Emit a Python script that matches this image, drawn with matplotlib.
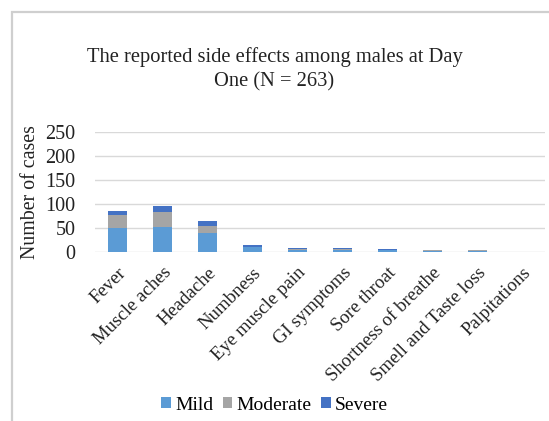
import numpy as np
import matplotlib
matplotlib.use("Agg")
import matplotlib.pyplot as plt
from matplotlib.patches import Rectangle

plt.rcParams['font.family'] = ['Liberation Serif', 'DejaVu Serif']

# Side effects reported on day one, males (N = 263)
symptoms = ["Fever", "Muscle aches", "Headache", "Numbness", "Eye muscle pain",
            "GI symptoms", "Sore throat", "Shortness of breathe",
            "Smell and Taste loss", "Palpitations"]
mild = [50, 52, 40, 9, 4, 4, 3, 2, 2, 0]
moderate = [26, 30, 14, 1, 2, 2, 1, 1, 1, 0]
severe = [9, 13, 10, 4, 1, 1, 1, 0, 0, 0]
y_ticks = [0, 50, 100, 150, 200, 250]

fig = plt.figure(figsize=(5.49, 4.21), dpi=100)
ax = fig.add_axes([95 / 549, 1 - 251.7 / 421, 450 / 549, 120 / 421])

# light frame around the chart
fig.patches.append(Rectangle((12 / 549, -0.1), 1.2, 1 - 12 / 421 + 0.1,
                             transform=fig.transFigure, fill=False,
                             edgecolor="#cfcfcf", linewidth=1.6))

x = np.arange(len(symptoms))
w = 0.42
mild_a = np.array(mild)
mod_a = np.array(moderate)
sev_a = np.array(severe)
ax.bar(x, mild_a, w, color="#5B9BD5", label="Mild", zorder=3)
ax.bar(x, mod_a, w, bottom=mild_a, color="#A5A5A5", label="Moderate", zorder=3)
ax.bar(x, sev_a, w, bottom=mild_a + mod_a, color="#4472C4", label="Severe", zorder=3)

ax.set_xlim(-0.5, len(symptoms) - 0.5)
ax.set_ylim(0, 250)
ax.set_yticks(y_ticks)
ax.yaxis.grid(True, color="#d9d9d9", linewidth=1.0)
ax.set_axisbelow(True)
for s in ax.spines.values():
    s.set_visible(False)
ax.tick_params(axis="both", length=0, colors="#222222")
ax.tick_params(axis="y", pad=14, labelsize=14.5)
ax.tick_params(axis="x", pad=9)
ax.set_xticks(x)
ax.set_xticklabels(symptoms, rotation=45, ha="right", rotation_mode="anchor",
                   fontsize=13.5)
ax.set_ylabel("Number of cases", fontsize=14.3, color="#222222", labelpad=4)

fig.text(0.5, 1 - 57 / 421, "The reported side effects among males at Day",
         ha="center", va="center", fontsize=14.8, color="#222222")
fig.text(0.5, 1 - 82 / 421, "One (N = 263)",
         ha="center", va="center", fontsize=14.8, color="#222222")

fig.legend(loc="center", bbox_to_anchor=(0.5, 1 - 405 / 421), ncol=3,
           frameon=False, prop={"family": "Liberation Serif", "size": 14},
           handlelength=0.5, handleheight=0.5,
           handletextpad=0.2, columnspacing=0.5, borderaxespad=0)

fig.savefig("out.png", dpi=100, facecolor="white")
